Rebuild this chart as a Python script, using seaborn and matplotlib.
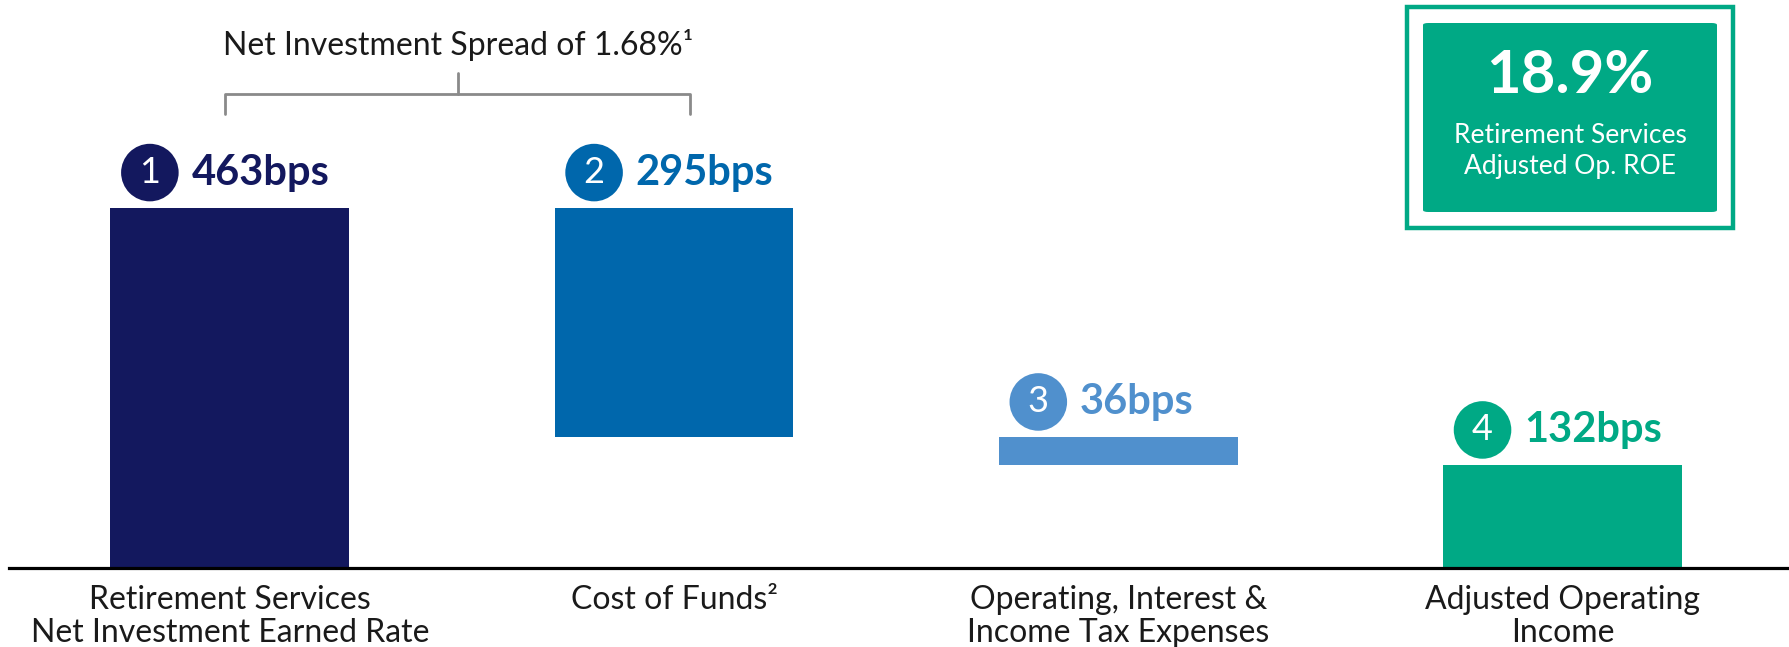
import matplotlib.pyplot as plt
import seaborn as sns
import pandas as pd
from matplotlib.patches import Rectangle, FancyBboxPatch

# 数据
categories = ['Retirement Services\nNet Investment Earned Rate', 'Cost of Funds²',
              'Operating, Interest &\nIncome Tax Expenses', 'Adjusted Operating\nIncome']
values = [463, 295, 36, 132]
bottoms = [0, 168, 132, 0]
step_nums = ['1', '2', '3', '4']
value_labels = ['463bps', '295bps', '36bps', '132bps']
colors = ['#13185E', '#0067AC', '#5090CD', '#00A985']
spread_label = 'Net Investment Spread of 1.68%¹'
roe_value = '18.9%'
roe_label = 'Retirement Services\nAdjusted Op. ROE'

sns.set_style('white')
plt.rcParams['font.family'] = ['Lato', 'DejaVu Sans']

df = pd.DataFrame({'cat': categories, 'top': [b + v for b, v in zip(bottoms, values)]})

fig = plt.figure(figsize=(17.89, 6.47), dpi=100)
ax = fig.add_axes([9 / 1789, 79 / 647, 1 - 9 / 1789, 568 / 647])

sns.barplot(data=df, x='cat', y='top', hue='cat', palette=colors, width=0.538,
            legend=False, ax=ax, saturation=1)

# 瀑布图：把柱子移到底部位置
for p, b, v in zip(ax.patches, bottoms, values):
    p.set_y(b)
    p.set_height(v)
    p.set_edgecolor('none')

ax.set_xlim(-0.497, 3.51)
ax.set_ylim(0, 730.5)
ax.set_xlabel('')
ax.set_ylabel('')
ax.set_yticks([])
ax.tick_params(axis='x', length=0, pad=12.5, labelsize=23, labelcolor='#1a1a1a')
for s in ['top', 'left', 'right']:
    ax.spines[s].set_visible(False)
ax.spines['bottom'].set_linewidth(2.3)
ax.spines['bottom'].set_color('black')
for t in ax.get_xticklabels():
    t.set_linespacing(1.12)

# 数字圆圈 + 数值标签
for p, num, lab, c in zip(ax.patches, step_nums, value_labels, colors):
    x0 = p.get_x()
    top = p.get_y() + p.get_height()
    ax.annotate(num, xy=(x0, top), xytext=(28.5, 25.5), textcoords='offset points',
                ha='center', va='center', fontsize=26, color='white',
                bbox=dict(boxstyle='circle,pad=0.34', fc=c, ec='none'))
    ax.annotate(lab, xy=(x0, top), xytext=(58.5, 25.5), textcoords='offset points',
                ha='left', va='center', fontsize=30, fontweight='bold', color=c)

# 括号
bx0, bx1 = -0.011, 1.037
ax.plot([bx0, bx0, bx1, bx1], [584, 610, 610, 584], color='#8a8a8a', lw=2, clip_on=False)
ax.plot([(bx0 + bx1) / 2] * 2, [610, 637], color='#8a8a8a', lw=2, clip_on=False)
ax.text((bx0 + bx1) / 2, 672, spread_label, ha='center', va='center',
        fontsize=23, color='#1a1a1a')

# ROE 方框
fig.patches.append(Rectangle((1407 / 1789, 1 - 228 / 647), 326 / 1789, 221 / 647,
                             transform=fig.transFigure, fc='white', ec=colors[3], lw=3.2))
fig.patches.append(FancyBboxPatch((1423 / 1789, 1 - 212 / 647), 294 / 1789, 189 / 647,
                                  boxstyle='round,pad=0,rounding_size=0.003',
                                  transform=fig.transFigure, fc=colors[3], ec='none'))
fig.text(1570 / 1789, 1 - 76 / 647, roe_value, ha='center', va='center',
         fontsize=43, fontweight='bold', color='white')
fig.text(1570 / 1789, 1 - 151 / 647, roe_label, ha='center', va='center',
         fontsize=19, color='white', linespacing=1.3)

plt.savefig('out.png', dpi=100)
